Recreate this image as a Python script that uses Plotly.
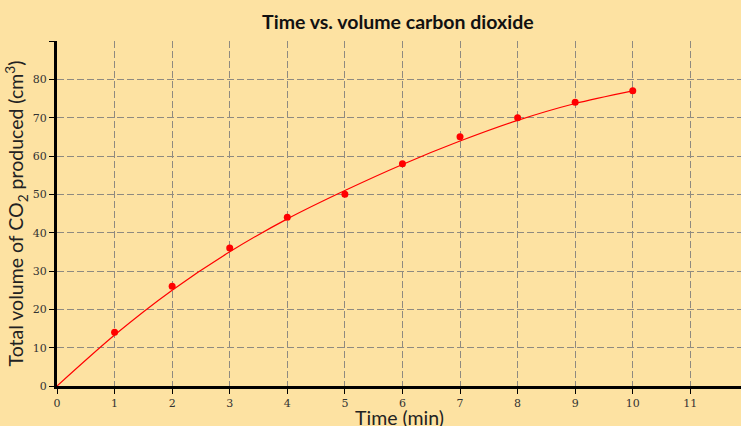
import plotly.graph_objects as go

# Measured data
time_min = [1, 2, 3, 4, 5, 6, 7, 8, 9, 10]
volume_cm3 = [14, 26, 36, 44, 50, 58, 65, 70, 74, 77]

# Fitted trend curve
curve_time = [0, 1, 2, 3, 4, 5, 6, 7, 8, 9, 10]
curve_volume = [0, 13.3, 25.0, 35.0, 43.6, 51.0, 57.8, 63.9, 69.3, 73.7, 77.0]

x_ticks = list(range(0, 12))
y_ticks = [0, 10, 20, 30, 40, 50, 60, 70, 80, 90]
y_ticktext = ["0", "10", "20", "30", "40", "50", "60", "70", "80", ""]

BG = "#FDE2A2"
RED = "#FF0000"
GRID = "#8f8a80"

fig = go.Figure()
fig.add_trace(go.Scatter(
    x=curve_time, y=curve_volume, mode="lines",
    line=dict(color=RED, width=1.2, shape="spline", smoothing=0.8),
    hoverinfo="skip", showlegend=False,
))
fig.add_trace(go.Scatter(
    x=time_min, y=volume_cm3, mode="markers",
    marker=dict(color=RED, size=7),
    showlegend=False,
))

fig.update_layout(
    width=741, height=426,
    paper_bgcolor=BG, plot_bgcolor=BG,
    margin=dict(l=57, r=0, t=41, b=40, autoexpand=False),
    title=dict(
        text="<b>Time vs. volume carbon dioxide</b>",
        x=0.537, xanchor="center", y=0.948, yanchor="middle",
        font=dict(family="Lato", size=19.5, color="#111111"),
    ),
    xaxis=dict(
        range=[0, 11.88], tickvals=x_ticks, automargin=False,
        showline=True, linecolor="black", linewidth=3,
        ticks="outside", ticklen=5, tickwidth=1, tickcolor="black",
        showgrid=True, gridcolor=GRID, gridwidth=1, griddash="7px,3px",
        zeroline=False,
        tickfont=dict(family="DejaVu Serif", size=11, color="#333333"),
        fixedrange=True,
    ),
    yaxis=dict(
        range=[0, 90], tickvals=y_ticks, ticktext=y_ticktext, automargin=False,
        showline=True, linecolor="black", linewidth=3,
        ticks="outside", ticklen=5, tickwidth=1, tickcolor="black",
        showgrid=True, gridcolor=GRID, gridwidth=1, griddash="7px,3px",
        zeroline=False,
        tickfont=dict(family="DejaVu Serif", size=11, color="#333333"),
        title=dict(text="Total volume of CO<sub>2</sub> produced (cm<sup>3</sup>)",
                   standoff=4,
                   font=dict(family="Lato", size=19.5, color="#222222")),
        fixedrange=True,
    ),
    annotations=[dict(
        text="Time (min)", xref="paper", yref="paper",
        x=0.5, y=-0.092, xanchor="center", yanchor="middle",
        showarrow=False,
        font=dict(family="Lato", size=19.5, color="#222222"),
    )],
)

fig.write_html(
    "out.html",
    config={"displayModeBar": False},
    post_script="document.body.style.margin='0';document.body.style.overflow='hidden';",
)
